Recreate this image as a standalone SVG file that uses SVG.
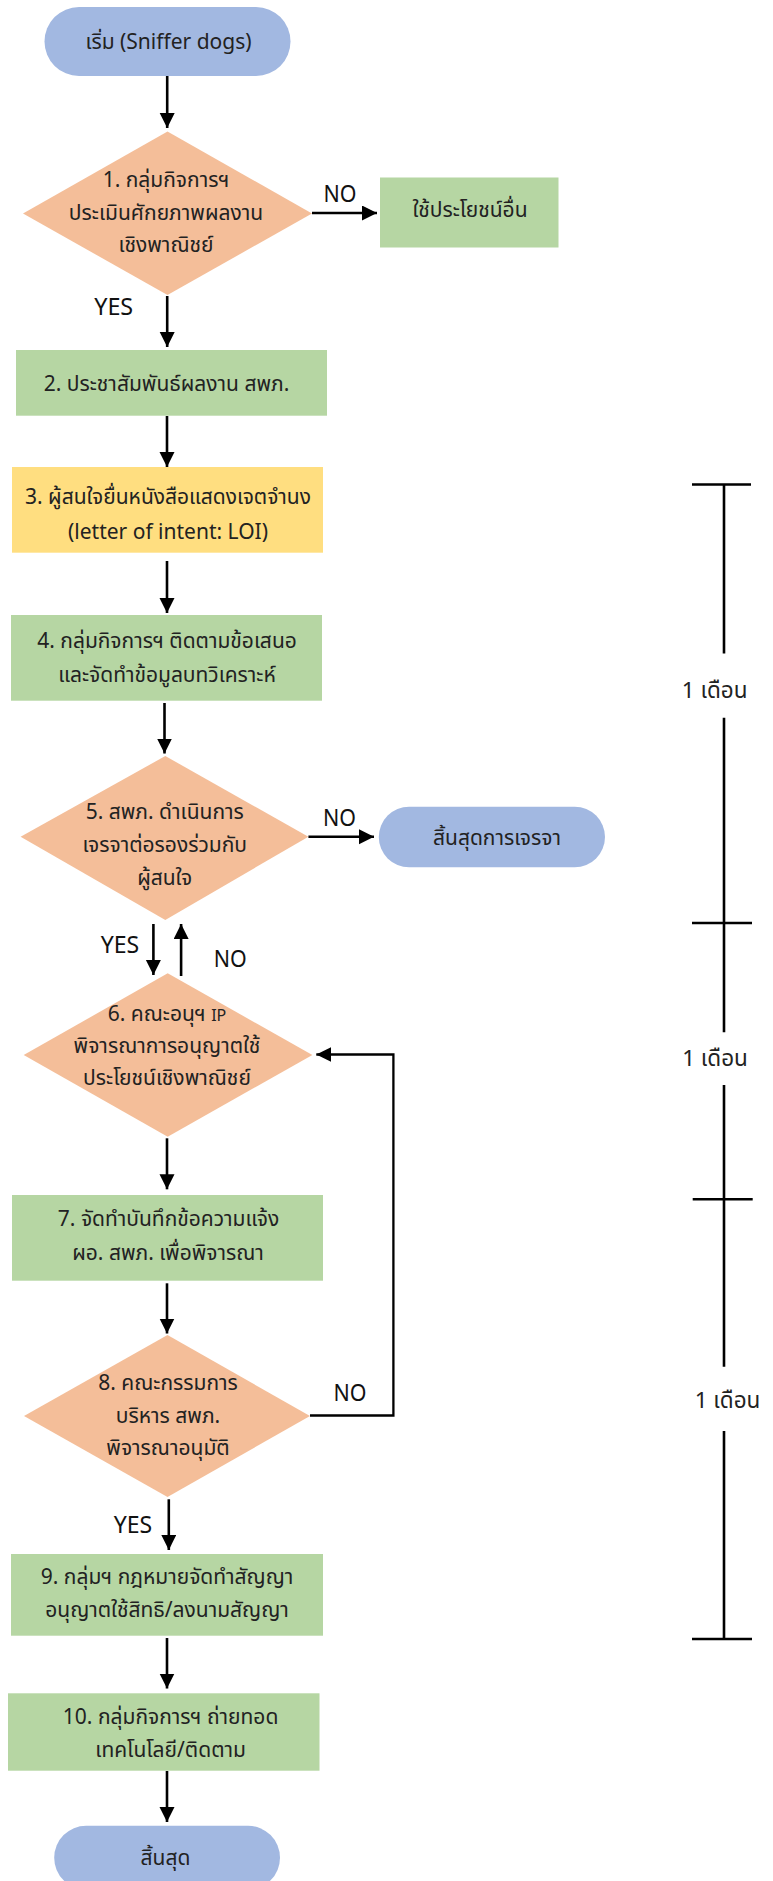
<svg xmlns="http://www.w3.org/2000/svg" width="773" height="1881" viewBox="0 0 773 1881">
<defs>
<style>
.t{font-family:"Noto Sans","Noto Sans Thai","DejaVu Sans",sans-serif;font-size:21px;fill:#222;text-anchor:middle}
.lbl{font-family:"Noto Sans","DejaVu Sans",sans-serif;font-size:23px;fill:#111;text-anchor:middle}
.tm{font-family:"Noto Sans","Noto Sans Thai","DejaVu Sans",sans-serif;font-size:22.5px;fill:#222;text-anchor:middle}
.blue{fill:#A2B8E1}
.org{fill:#F4BE99}
.grn{fill:#B6D6A3}
.yel{fill:#FFDE80}
.c{stroke:#000;stroke-width:2.6;fill:none;marker-end:url(#ah)}
.tl{stroke:#000;stroke-width:2.6;fill:none}
</style>
<marker id="ah" markerUnits="userSpaceOnUse" markerWidth="16" markerHeight="16" refX="15" refY="7.5" orient="auto">
<path d="M0,0 L15,7.5 L0,15 z" fill="#000"/>
</marker>
</defs>
<rect width="773" height="1881" fill="#fff"/>
<g id="connectors">
<line class="c" x1="167.2" y1="76" x2="167.2" y2="128"/>
<line class="c" x1="312" y1="213" x2="377" y2="213"/>
<line class="c" x1="167.2" y1="296" x2="167.2" y2="347"/>
<line class="c" x1="167" y1="416" x2="167" y2="467"/>
<line class="c" x1="167" y1="561" x2="167" y2="613"/>
<line class="c" x1="164.5" y1="703" x2="164.5" y2="753.5"/>
<line class="c" x1="308.4" y1="836.7" x2="374" y2="836.7"/>
<line class="c" x1="153.4" y1="924" x2="153.4" y2="975"/>
<line class="c" x1="181.1" y1="976" x2="181.1" y2="924"/>
<polyline class="c" style="stroke-width:2.3" points="310,1415.5 393.4,1415.5 393.4,1054.5 316.3,1054.5"/>
<line class="c" x1="167" y1="1138.3" x2="167" y2="1189.3"/>
<line class="c" x1="167" y1="1283.3" x2="167" y2="1333.5"/>
<line class="c" x1="168.8" y1="1499.3" x2="168.8" y2="1550"/>
<line class="c" x1="167" y1="1638" x2="167" y2="1688.5"/>
<line class="c" x1="167" y1="1771" x2="167" y2="1822"/>
<text class="lbl" x="340" y="201.5" textLength="33" lengthAdjust="spacingAndGlyphs">NO</text>
<text class="lbl" x="113.7" y="315" textLength="39" lengthAdjust="spacingAndGlyphs">YES</text>
<text class="lbl" x="339.5" y="826" textLength="33" lengthAdjust="spacingAndGlyphs">NO</text>
<text class="lbl" x="120" y="953" textLength="38.5" lengthAdjust="spacingAndGlyphs">YES</text>
<text class="lbl" x="230.3" y="966.5" textLength="33" lengthAdjust="spacingAndGlyphs">NO</text>
<text class="lbl" x="350" y="1401" textLength="33" lengthAdjust="spacingAndGlyphs">NO</text>
<text class="lbl" x="133" y="1532.5" textLength="38.5" lengthAdjust="spacingAndGlyphs">YES</text>
</g>
<g id="start">
<rect class="blue" x="44.5" y="7" width="246" height="69" rx="34.5"/>
<text class="t" x="168.5" y="49">เริ่ม (Sniffer dogs)</text>
</g>
<g id="d1">
<polygon class="org" points="167.5,131.5 312,213.5 167.5,295 23,213.5"/>
<text class="t" x="166" y="187">1. กลุ่มกิจการฯ</text>
<text class="t" x="166" y="220">ประเมินศักยภาพผลงาน</text>
<text class="t" x="166" y="252">เชิงพาณิชย์</text>
</g>
<g id="other">
<rect class="grn" x="380" y="177.5" width="178.5" height="70"/>
<text class="t" x="470" y="217">ใช้ประโยชน์อื่น</text>
</g>
<g id="s2">
<rect class="grn" x="16" y="350" width="311" height="65.7"/>
<text class="t" x="166.5" y="391">2. ประชาสัมพันธ์ผลงาน สพภ.</text>
</g>
<g id="s3">
<rect class="yel" x="12" y="467" width="311" height="85.7"/>
<text class="t" x="168" y="504">3. ผู้สนใจยื่นหนังสือแสดงเจตจำนง</text>
<text class="t" x="168" y="539">(letter of intent: LOI)</text>
</g>
<g id="s4">
<rect class="grn" x="11" y="615" width="311" height="85.7"/>
<text class="t" x="167" y="648">4. กลุ่มกิจการฯ ติดตามข้อเสนอ</text>
<text class="t" x="167" y="682">และจัดทำข้อมูลบทวิเคราะห์</text>
</g>
<g id="d5">
<polygon class="org" points="165.3,756 308.4,836.7 165.3,920 20.6,836.7"/>
<text class="t" x="164.7" y="819">5. สพภ. ดำเนินการ</text>
<text class="t" x="164.7" y="852">เจรจาต่อรองร่วมกับ</text>
<text class="t" x="164.7" y="885">ผู้สนใจ</text>
</g>
<g id="endneg">
<rect class="blue" x="378.8" y="806.7" width="226.2" height="60.6" rx="30.3"/>
<text class="t" x="497" y="845">สิ้นสุดการเจรจา</text>
</g>
<g id="d6">
<polygon class="org" points="167.7,973.3 312.4,1055 167.7,1136.7 23.7,1055"/>
<text class="t" x="167" y="1021">6. คณะอนุฯ <tspan style="font-size:16px">IP</tspan></text>
<text class="t" x="167" y="1053">พิจารณาการอนุญาตใช้</text>
<text class="t" x="167" y="1085">ประโยชน์เชิงพาณิชย์</text>
</g>
<g id="s7">
<rect class="grn" x="12" y="1195" width="311" height="85.7"/>
<text class="t" x="168.5" y="1226">7. จัดทำบันทึกข้อความแจ้ง</text>
<text class="t" x="168" y="1260">ผอ. สพภ. เพื่อพิจารณา</text>
</g>
<g id="d8">
<polygon class="org" points="167.5,1335 310,1416 167.5,1497 24,1416"/>
<text class="t" x="168" y="1389.5">8. คณะกรรมการ</text>
<text class="t" x="168" y="1423">บริหาร สพภ.</text>
<text class="t" x="168" y="1455">พิจารณาอนุมัติ</text>
</g>
<g id="s9">
<rect class="grn" x="11" y="1554" width="312" height="81.7"/>
<text class="t" x="167" y="1584">9. กลุ่มฯ กฎหมายจัดทำสัญญา</text>
<text class="t" x="167" y="1617">อนุญาตใช้สิทธิ/ลงนามสัญญา</text>
</g>
<g id="s10">
<rect class="grn" x="8" y="1693.3" width="311.5" height="77.4"/>
<text class="t" x="170.6" y="1724">10. กลุ่มกิจการฯ ถ่ายทอด</text>
<text class="t" x="170.6" y="1757">เทคโนโลยี/ติดตาม</text>
</g>
<g id="end">
<rect class="blue" x="54.2" y="1825.7" width="225.8" height="64" rx="32"/>
<text class="t" x="165.5" y="1865">สิ้นสุด</text>
</g>
<g id="timeline">
<path class="tl" d="M724,484.5V653.5 M724,717.8V1032.3 M724,1085V1366.7 M724,1431V1639 M692,484.5H751 M692,923H752 M692.7,1199.3H752.7 M692,1639H752"/>
<text class="tm" x="714.7" y="698">1 เดือน</text>
<text class="tm" x="715" y="1065.5">1 เดือน</text>
<text class="tm" x="727.5" y="1408">1 เดือน</text>
</g>
</svg>
